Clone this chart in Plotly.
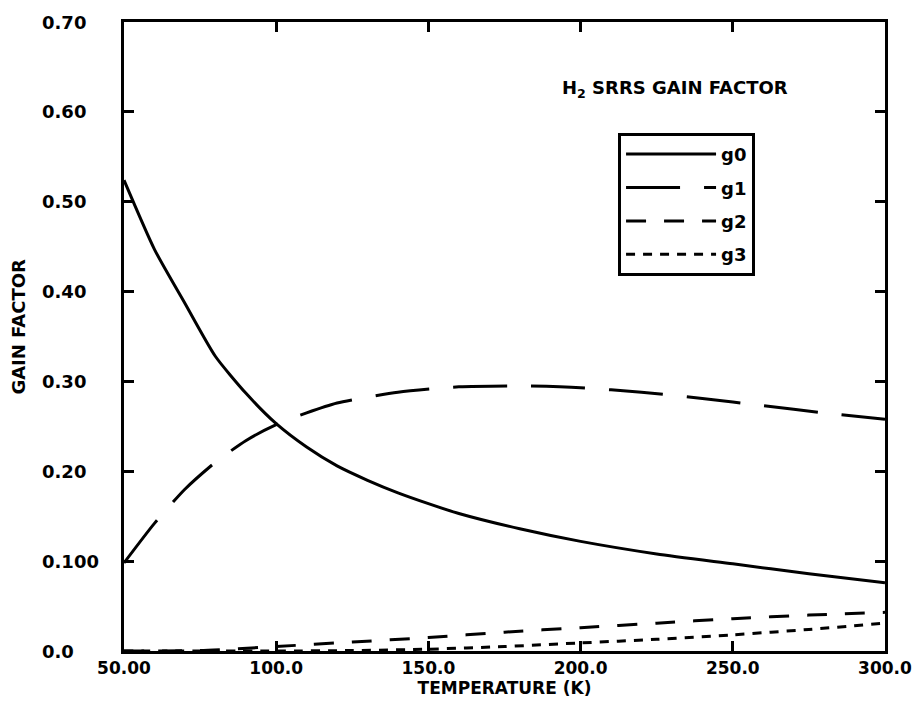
import plotly.graph_objects as go

# ---- data ----
temp_g0 = [50, 60, 70, 80, 90, 100, 110, 120, 130, 140, 150, 160, 180, 200, 225, 250, 275, 300]
g0 = [0.524, 0.447, 0.387, 0.328, 0.287, 0.253, 0.227, 0.206, 0.190, 0.176, 0.164, 0.153, 0.136, 0.122, 0.108, 0.097, 0.086, 0.076]

temp_g1 = [50, 60, 70, 80, 90, 100, 110, 120, 140, 160, 180, 200, 220, 240, 260, 280, 300]
g1 = [0.098, 0.142, 0.180, 0.210, 0.234, 0.252, 0.265, 0.276, 0.288, 0.294, 0.295, 0.293, 0.288, 0.281, 0.273, 0.265, 0.258]

temp_g2 = [50, 75, 100, 125, 150, 175, 200, 225, 250, 275, 300]
g2 = [0.0, 0.0005, 0.005, 0.010, 0.015, 0.021, 0.026, 0.031, 0.036, 0.040, 0.043]

temp_g3 = [50, 100, 125, 150, 175, 200, 225, 250, 275, 300]
g3 = [0.0, 0.0, 0.0005, 0.002, 0.005, 0.009, 0.013, 0.018, 0.024, 0.031]

x_tickvals = [50, 100, 150, 200, 250, 300]
x_ticktext = ["50.00", "100.0", "150.0", "200.0", "250.0", "300.0"]
y_tickvals = [0.0, 0.1, 0.2, 0.3, 0.4, 0.5, 0.6, 0.7]
y_ticktext = ["0.0", "0.100", "0.20", "0.30", "0.40", "0.50", "0.60", "0.70"]

series = [
    ("g0", temp_g0, g0, "solid"),
    ("g1", temp_g1, g1, "54px,24px"),
    ("g2", temp_g2, g2, "20px,18px"),
    ("g3", temp_g3, g3, "9px,8px"),
]

FONT = "DejaVu Sans, Verdana, sans-serif"

W, H = 924, 702
ML, MR, MT, MB = 124, 36, 22, 39
PW = W - ML - MR
PH = H - MT - MB

def px_to_paper_x(px):
    return (px - ML) / PW

def px_to_paper_y(py):
    return (H - MB - py) / PH

fig = go.Figure()
for name, xs, ys, dash in series:
    fig.add_trace(go.Scatter(
        x=xs, y=ys, mode="lines", name=name, legendgroup=name,
        line=dict(color="black", width=3, dash=dash, shape="spline", smoothing=0.6),
    ))

axis_common = dict(
    showline=True, linecolor="black", linewidth=3, mirror="ticks",
    ticks="inside", ticklen=10, tickwidth=2.5, tickcolor="black",
    showgrid=False, zeroline=False,
)

fig.update_xaxes(
    range=[50, 300], tickvals=x_tickvals, ticktext=x_ticktext,
    tickfont=dict(family=FONT, size=17, color="black", weight="bold"),
    title=dict(text="TEMPERATURE (K)", standoff=0,
               font=dict(family=FONT, size=17, color="black", weight="bold")),
    **axis_common,
)
fig.update_yaxes(
    range=[0, 0.7], tickvals=y_tickvals, showticklabels=False,
    **axis_common,
)

# y tick labels: left-aligned as in the reference
for v, t in zip(y_tickvals, y_ticktext):
    fig.add_annotation(
        text=t, xref="paper", yref="y", x=px_to_paper_x(40), y=v,
        xanchor="left", yanchor="middle", showarrow=False,
        font=dict(family=FONT, size=18, color="black", weight="bold"),
    )

# y axis title
fig.add_annotation(
    text="GAIN FACTOR", xref="paper", yref="paper",
    x=px_to_paper_x(18), y=px_to_paper_y(332), textangle=-90,
    xanchor="center", yanchor="middle", showarrow=False,
    font=dict(family=FONT, size=18, color="black", weight="bold"),
)

# inner title
fig.add_annotation(
    text="H<sub>2</sub> SRRS GAIN FACTOR", xref="paper", yref="paper",
    x=px_to_paper_x(562), y=px_to_paper_y(90), xanchor="left", yanchor="middle",
    showarrow=False,
    font=dict(family=FONT, size=18, color="black", weight="bold"),
)

fig.update_layout(
    width=W, height=H,
    margin=dict(l=ML, r=MR, t=MT, b=MB),
    paper_bgcolor="white", plot_bgcolor="white",
    showlegend=True,
    legend=dict(
        x=px_to_paper_x(620), y=px_to_paper_y(135), xanchor="left", yanchor="top",
        bordercolor="black", borderwidth=3, bgcolor="white",
        font=dict(family=FONT, size=18, color="black", weight="bold"),
        tracegroupgap=7, traceorder="grouped",
        itemwidth=90,
    ),
)

fig.write_html("out.html")
